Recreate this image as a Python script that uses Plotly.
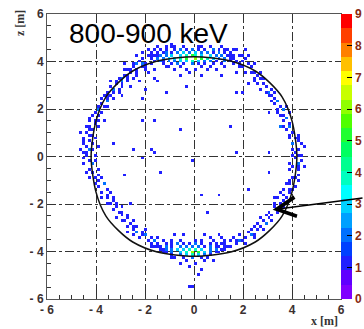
import numpy as np
import plotly.graph_objects as go

# ---------------- data (bin centre x [m], z [m], counts) ----------------
BIN = 0.12

top_cluster = [
    (-0.9, 4.62, 1), (-0.45, 4.62, 1), (0.15, 4.66, 1), (0.6, 4.62, 1), (1.1, 4.58, 1), (-0.93, 4.75, 1),
    (-1.4, 4.5, 1), (-1.1, 4.5, 1), (-0.8, 4.5, 1), (-0.55, 4.5, 2), (-0.3, 4.5, 1), (-0.05, 4.5, 2),
    (0.2, 4.5, 1), (0.45, 4.5, 1), (0.75, 4.5, 2), (1.0, 4.5, 1), (1.3, 4.46, 1),
    (-1.7, 4.38, 1), (-1.45, 4.38, 1), (-1.2, 4.38, 2), (-0.95, 4.38, 1), (-0.7, 4.38, 2), (-0.45, 4.38, 3),
    (-0.2, 4.38, 2), (0.05, 4.38, 3), (0.3, 4.38, 2), (0.55, 4.38, 2), (0.8, 4.38, 1), (1.05, 4.38, 2),
    (1.3, 4.38, 1), (1.55, 4.35, 1),
    (-1.9, 4.26, 1), (-1.6, 4.26, 1), (-1.35, 4.26, 2), (-1.1, 4.26, 2), (-0.85, 4.26, 3), (-0.6, 4.26, 3),
    (-0.35, 4.26, 4), (-0.1, 4.26, 5), (0.1, 4.26, 4), (0.35, 4.26, 3), (0.6, 4.26, 3), (0.85, 4.26, 2),
    (1.1, 4.26, 2), (1.35, 4.26, 1), (1.6, 4.22, 1), (1.85, 4.2, 1),
    (-1.8, 4.14, 1), (-1.5, 4.14, 2), (-1.25, 4.14, 2), (-1.0, 4.14, 3), (-0.75, 4.14, 3), (-0.5, 4.14, 4),
    (-0.25, 4.14, 5), (0.0, 4.14, 6), (0.25, 4.14, 5), (0.5, 4.14, 4), (0.75, 4.14, 3), (1.0, 4.14, 2),
    (1.25, 4.14, 2), (1.5, 4.1, 1), (1.75, 4.06, 1), (2.0, 4.0, 1),
    (-1.6, 4.02, 1), (-1.3, 4.02, 1), (-1.05, 4.02, 2), (-0.8, 4.02, 2), (-0.55, 4.02, 3), (-0.3, 4.02, 3),
    (-0.05, 4.02, 4), (0.2, 4.02, 3), (0.45, 4.02, 2), (0.7, 4.02, 2), (0.95, 4.02, 1), (1.2, 4.02, 2),
    (1.45, 3.98, 1),
    (-1.3, 3.9, 1), (-0.95, 3.9, 1), (-0.65, 3.9, 2), (-0.4, 3.9, 1), (-0.1, 3.9, 2), (0.15, 3.9, 1),
    (0.45, 3.9, 1), (0.8, 3.9, 1), (1.1, 3.88, 1),
    (-1.0, 3.78, 1), (-0.5, 3.78, 1), (0.3, 3.78, 1), (0.7, 3.76, 1),
    (-0.75, 3.62, 1), (0.55, 3.6, 1), (-0.2, 3.55, 1),
    (1.1, 3.36, 1), (1.3, 3.73, 1),
    (-1.15, 3.75, 1), (-0.3, 3.7, 1), (0.9, 3.7, 1), (0.05, 3.65, 1), (-0.8, 4.62, 1), (0.35, 4.62, 1),
    (1.35, 4.55, 1), (1.6, 4.5, 1), (-1.55, 4.6, 1), (1.75, 3.55, 1), (-0.6, 3.45, 1), (0.25, 3.4, 1),
]

top_left_arc = [
    (-1.3, 4.35, 1), (-1.5, 4.2, 1), (-1.4, 4.0, 2), (-1.6, 4.45, 1), (-1.8, 4.1, 1), (-1.7, 3.9, 1),
    (-1.9, 4.3, 1), (-2.0, 3.95, 1), (-2.1, 3.75, 1), (-2.2, 4.05, 1), (-2.0, 3.6, 1), (-2.3, 3.85, 2),
    (-2.4, 3.6, 1), (-2.5, 3.95, 1), (-2.3, 3.4, 1), (-2.6, 3.7, 1), (-2.7, 3.45, 1), (-2.5, 3.3, 1),
    (-2.8, 3.6, 1), (-2.9, 3.3, 2), (-2.7, 3.15, 1), (-3.0, 3.05, 1), (-3.1, 3.35, 1), (-2.9, 2.9, 1),
    (-3.2, 3.0, 1), (-3.3, 2.75, 1), (-3.1, 2.65, 1), (-3.4, 2.95, 1), (-3.5, 2.55, 1), (-3.3, 2.4, 1),
    (-3.6, 2.75, 1), (-3.6, 2.3, 2), (-3.7, 2.05, 1), (-3.8, 2.4, 1), (-3.5, 2.1, 1), (-3.9, 2.1, 1),
    (-3.8, 1.8, 1), (-4.0, 1.9, 1), (-3.9, 1.55, 1), (-4.1, 1.7, 1), (-4.0, 1.35, 1), (-4.2, 1.45, 1),
    (-3.7, 1.5, 1), (-4.1, 1.15, 1), (-4.3, 1.2, 1), (-2.2, 3.2, 1), (-2.6, 2.9, 1), (-1.9, 3.55, 1),
    (-1.6, 3.7, 1), (-3.0, 2.6, 1), (-2.0, 2.8, 1), (-2.4, 4.25, 1), (-1.2, 4.6, 1), (-2.8, 3.85, 1),
    (-1.6, 3.3, 1), (-3.45, 3.2, 1),
    (-1.55, 4.1, 1), (-1.75, 4.25, 1), (-2.05, 4.15, 1), (-2.15, 3.9, 2), (-2.45, 3.8, 1), (-2.55, 3.5, 1),
    (-2.75, 3.7, 1), (-2.85, 3.45, 1), (-2.95, 3.15, 2), (-3.15, 3.15, 1), (-3.25, 2.85, 2), (-3.4, 2.6, 1),
    (-3.55, 2.4, 1), (-3.7, 2.55, 1), (-3.75, 2.2, 1), (-3.85, 1.95, 2), (-3.95, 1.75, 1), (-4.05, 1.5, 1),
    (-4.2, 1.6, 1), (-4.25, 1.3, 1), (-3.95, 1.25, 1), (-4.1, 0.95, 1), (-2.35, 3.55, 1), (-2.65, 3.25, 1),
    (-3.05, 2.85, 1), (-1.95, 3.75, 1), (-1.85, 4.45, 1), (-2.1, 4.35, 1),
]

top_right_arc = [
    (1.9, 4.3, 1), (2.1, 4.1, 1), (2.2, 3.9, 1), (2.0, 3.8, 1), (2.35, 3.75, 1), (2.5, 3.55, 1),
    (2.3, 3.5, 1), (2.6, 3.4, 1), (2.7, 3.25, 1), (2.5, 3.2, 1), (2.8, 3.05, 1), (2.95, 2.95, 1),
    (2.75, 2.85, 1), (3.05, 2.75, 2), (3.2, 2.6, 1), (3.0, 2.55, 1), (3.3, 2.45, 1), (3.4, 2.3, 2),
    (3.25, 2.2, 1), (3.5, 2.1, 1), (3.6, 1.95, 2), (3.45, 1.85, 1), (3.7, 1.75, 1), (3.8, 1.6, 2),
    (3.65, 1.5, 1), (3.9, 1.4, 1), (3.95, 1.2, 2), (3.8, 1.1, 1), (4.05, 1.0, 1), (4.1, 0.8, 1),
    (3.95, 0.75, 1), (4.2, 0.6, 1), (4.05, 0.5, 2), (4.25, 0.35, 1), (4.1, 0.2, 1), (4.3, 0.1, 1),
    (4.15, -0.05, 1), (4.35, -0.2, 1), (4.2, -0.35, 2), (4.0, -0.45, 1), (4.3, -0.55, 1), (4.5, -0.4, 1),
    (1.6, 3.95, 1), (1.8, 3.75, 1), (2.05, 3.55, 1), (2.6, 3.1, 1), (3.35, 2.7, 1), (4.45, 0.4, 1),
    (4.4, 0.0, 1), (3.55, 1.25, 2), (2.25, 3.0, 1), (1.55, 4.3, 1), (1.75, 4.45, 1), (2.1, 4.45, 1),
    (4.0, 0.3, 1), (3.9, 0.95, 1), (4.2, 0.95, 1), (4.3, 0.75, 1), (4.4, 0.55, 1), (4.0, 0.1, 1),
    (3.7, 1.3, 1), (3.85, 1.85, 1), (3.55, 1.7, 1), (3.75, 2.15, 1), (3.4, 2.0, 1), (3.15, 2.35, 1),
    (2.95, 2.75, 1), (3.15, 2.85, 1), (2.85, 3.3, 1), (2.65, 3.55, 1), (2.4, 3.35, 1), (2.45, 3.85, 1),
    (2.25, 4.2, 1), (2.0, 4.2, 1), (1.65, 4.1, 1), (1.8, 3.95, 1),
]

bottom_right_arc = [
    (4.3, -0.75, 1), (4.1, -0.85, 1), (4.2, -1.0, 1), (3.95, -1.1, 1), (4.1, -1.25, 1), (3.85, -1.35, 1),
    (3.95, -1.55, 1), (3.7, -1.6, 1), (3.8, -1.75, 1), (3.6, -1.85, 1), (3.5, -2.0, 1), (3.65, -2.1, 1),
    (3.3, -2.15, 1), (3.4, -2.3, 1), (3.2, -2.45, 1), (3.05, -2.6, 1), (3.15, -2.75, 1), (2.9, -2.8, 2),
    (2.75, -2.95, 1), (2.85, -3.1, 1), (2.6, -3.1, 1), (2.45, -3.25, 1), (2.3, -3.3, 2), (2.5, -3.4, 1),
    (2.15, -3.45, 1), (2.0, -3.55, 1), (1.85, -3.6, 2), (2.05, -3.7, 1), (1.7, -3.7, 1), (1.55, -3.8, 1),
    (1.4, -3.75, 1), (1.6, -3.45, 1), (1.3, -3.55, 1), (1.1, -3.65, 1), (2.3, -3.05, 1), (3.3, -1.75, 1),
    (3.95, -0.6, 1), (3.75, -1.2, 1), (2.7, -2.55, 1), (3.55, -1.45, 1),
    (1.5, -3.6, 1), (1.75, -3.55, 1), (1.9, -3.35, 1), (2.2, -3.2, 1), (2.4, -3.0, 1), (2.55, -2.85, 1),
    (2.8, -2.65, 1), (2.95, -2.45, 1), (3.1, -2.3, 1), (3.25, -2.0, 1), (3.45, -1.75, 1), (3.6, -1.6, 1),
    (3.7, -1.4, 1), (3.85, -1.0, 1), (4.0, -0.95, 1), (4.0, -1.4, 1), (4.25, -0.45, 1), (3.9, -0.25, 1),
]

bottom_cluster = [
    (-0.8, -3.3, 1), (0.4, -3.25, 1), (1.0, -3.35, 1),
    (-1.3, -3.5, 1), (-0.9, -3.55, 1), (-0.5, -3.5, 1), (0.0, -3.5, 1), (0.3, -3.55, 1), (0.75, -3.5, 1),
    (1.15, -3.45, 1),
    (-1.5, -3.66, 1), (-1.2, -3.66, 1), (-0.95, -3.66, 1), (-0.7, -3.66, 2), (-0.45, -3.66, 1),
    (-0.2, -3.66, 1), (0.1, -3.66, 2), (0.35, -3.66, 1), (0.6, -3.66, 1), (0.9, -3.66, 1), (1.25, -3.66, 1),
    (-1.65, -3.78, 1), (-1.35, -3.78, 1), (-1.1, -3.78, 2), (-0.85, -3.78, 1), (-0.6, -3.78, 2),
    (-0.35, -3.78, 2), (-0.1, -3.78, 2), (0.15, -3.78, 2), (0.4, -3.78, 1), (0.65, -3.78, 2),
    (0.95, -3.78, 1), (1.2, -3.78, 1),
    (-1.4, -3.9, 1), (-1.15, -3.9, 2), (-0.9, -3.9, 2), (-0.65, -3.9, 3), (-0.4, -3.9, 3), (-0.15, -3.9, 4),
    (0.1, -3.9, 4), (0.35, -3.9, 3), (0.6, -3.9, 2), (0.85, -3.9, 2), (1.1, -3.9, 1),
    (-1.1, -4.02, 1), (-0.85, -4.02, 2), (-0.6, -4.02, 3), (-0.35, -4.02, 4), (-0.1, -4.02, 6),
    (0.15, -4.02, 5), (0.4, -4.02, 3), (0.65, -4.02, 2), (0.9, -4.02, 1),
    (-0.9, -4.14, 1), (-0.6, -4.14, 2), (-0.35, -4.14, 3), (-0.1, -4.14, 4), (0.15, -4.14, 3),
    (0.4, -4.14, 2), (0.7, -4.14, 1),
    (-0.75, -4.26, 1), (-0.4, -4.26, 1), (-0.05, -4.28, 2), (0.25, -4.26, 1), (0.55, -4.26, 1),
    (-0.5, -4.45, 1), (0.05, -4.5, 1), (0.4, -4.42, 1), (-0.2, -4.62, 1), (0.3, -4.7, 1),
    (0.2, -4.95, 1), (-0.05, -5.4, 1), (-0.2, -5.5, 1),
    (-1.25, -3.9, 1), (1.3, -3.9, 1), (1.0, -4.02, 1), (-1.25, -4.02, 1), (1.05, -3.78, 1),
    (-0.45, -3.36, 1), (0.6, -3.4, 1), (-0.3, -4.36, 1), (0.75, -4.32, 1), (-0.95, -4.3, 1),
]

bottom_left_arc = [
    (-1.9, -3.55, 1), (-1.75, -3.4, 1), (-2.05, -3.3, 1), (-2.2, -3.45, 1), (-2.35, -3.2, 2), (-2.5, -3.05, 1),
    (-2.3, -2.95, 1), (-2.6, -2.85, 1), (-2.75, -2.95, 1), (-2.85, -2.65, 1), (-2.65, -2.6, 1), (-3.0, -2.5, 1),
    (-3.1, -2.35, 1), (-2.9, -2.3, 1), (-3.25, -2.2, 1), (-3.4, -2.0, 1), (-3.2, -1.95, 1), (-3.5, -1.8, 1),
    (-3.35, -1.7, 1), (-3.6, -1.6, 1), (-3.75, -1.45, 1), (-3.55, -1.35, 1), (-3.85, -1.25, 1),
    (-3.7, -1.1, 2), (-3.9, -1.0, 1), (-1.6, -3.6, 2), (-1.45, -3.45, 1), (-2.0, -3.1, 1), (-2.5, -2.7, 1),
    (-3.0, -2.1, 1), (-1.7, -3.75, 1), (-2.7, -3.2, 1), (-3.15, -2.6, 1),
    (-3.75, -1.7, 1), (-3.45, -1.55, 1), (-3.3, -1.9, 1), (-3.15, -2.05, 1), (-2.95, -2.7, 1),
    (-2.75, -2.45, 1), (-2.45, -2.9, 1), (-2.15, -3.2, 1), (-1.95, -3.35, 2), (-1.8, -3.65, 1),
    (-1.55, -3.8, 1), (-1.35, -3.9, 1), (-2.45, -3.25, 1), (-3.6, -1.95, 1),
]

left_side = [
    (-4.0, -0.85, 1), (-4.15, -0.7, 1), (-3.95, -0.55, 1), (-4.3, -0.5, 1), (-4.1, -0.35, 2), (-4.45, -0.3, 1),
    (-4.2, -0.15, 1), (-4.35, 0.0, 1), (-4.05, 0.05, 1), (-4.5, 0.15, 1), (-4.25, 0.25, 2), (-4.4, 0.4, 1),
    (-4.1, 0.5, 1), (-4.55, 0.55, 1), (-4.3, 0.65, 1), (-4.45, 0.8, 1), (-4.2, 0.9, 1), (-4.35, 1.0, 1),
    (-4.6, 1.0, 1), (-4.05, 0.75, 1), (-4.5, -0.1, 1), (-4.25, -0.6, 1), (-4.6, 0.35, 1), (-4.15, 1.1, 1),
    (-4.4, 1.25, 1),
    (-4.15, 0.35, 1), (-4.35, 0.2, 1), (-4.0, -0.2, 1), (-4.25, -0.95, 1), (-3.9, -0.75, 1), (-4.4, -0.7, 1),
    (-4.05, -1.15, 1), (-3.8, -0.95, 1), (-4.5, 0.65, 1), (-3.95, 0.4, 1), (-4.25, 1.15, 1),
]

interior = [
    (-2.06, 2.4, 1), (-1.12, 2.64, 1), (-0.34, 2.95, 1), (-1.45, 3.12, 1), (1.7, 2.64, 1), (1.97, 2.64, 1),
    (-2.08, 1.52, 1), (-1.57, 1.44, 1), (-0.58, 1.1, 1), (1.5, 1.24, 1), (-2.51, 0.32, 1), (-1.77, 0.32, 1),
    (-1.57, 0.17, 1), (1.7, 0.17, 1), (-2.12, -0.06, 1), (-0.05, -0.2, 1), (-2.8, -0.77, 1), (-1.44, -0.7, 1),
    (0.24, -1.57, 1), (1.02, -1.62, 1), (-2.6, -1.99, 1), (2.27, -1.44, 1), (-2.93, -2.31, 1), (0.52, -2.31, 1),
    (3.1, 1.85, 1), (3.1, 0.15, 1), (3.57, 1.25, 2), (3.05, -0.7, 1), (-3.35, 0.58, 1), (-1.15, 2.7, 1),
]

# boundary curve
boundary_x = [4.2, 4.0, 3.6, 3.1, 2.5, 1.5, 0.0, -1.5, -2.5, -3.1, -3.6, -4.0, -4.2,
              -4.0, -3.6, -3.1, -2.5, -1.5, 0.0, 1.5, 2.5, 3.1, 3.6, 4.0, 4.2]
boundary_z = [0.0, 1.5, 2.5, 3.1, 3.6, 4.02, 4.2, 4.02, 3.6, 3.1, 2.5, 1.5, 0.0,
              -1.5, -2.5, -3.1, -3.6, -4.02, -4.2, -4.02, -3.6, -3.1, -2.5, -1.5, 0.0]

tick_vals = [-6, -4, -2, 0, 2, 4, 6]
tick_text = ["- 6", "- 4", "- 2", "0", "2", "4", "6"]
cbar_ticks = [0, 1, 2, 3, 4, 5, 6, 7, 8, 9]

# palette (20 contour bands, ROOT-like)
band_colors = ["#8000ff", "#6000ff", "#2020ff", "#0040ff", "#0070ff", "#00a0ff", "#00d0ff",
               "#00ffff", "#00ffc0", "#00ff90", "#00ff60", "#20ff30", "#50ff00", "#90ff00",
               "#c8ff00", "#ffff00", "#ffc000", "#ff8000", "#ff4000", "#ff0000"]

# ---------------- build histogram ----------------
nb = int(round(12 / BIN))
centers = -6 + BIN * (np.arange(nb) + 0.5)
H = np.full((nb, nb), np.nan)
for group in [top_cluster, top_left_arc, top_right_arc, bottom_right_arc, bottom_cluster,
              bottom_left_arc, left_side, interior]:
    for x, z, n in group:
        ix = min(max(int(np.floor((x + 6) / BIN)), 0), nb - 1)
        iz = min(max(int(np.floor((z + 6) / BIN)), 0), nb - 1)
        if np.isnan(H[iz, ix]) or H[iz, ix] < n:
            H[iz, ix] = n

colorscale = []
nbands = len(band_colors)
for i, c in enumerate(band_colors):
    colorscale.append([i / nbands, c])
    colorscale.append([(i + 1) / nbands, c])

fig = go.Figure()
fig.add_trace(go.Heatmap(
    x=centers, y=centers, z=H, zmin=0, zmax=9, colorscale=colorscale,
    hoverongaps=False,
    colorbar=dict(
        thickness=11, len=1, lenmode="fraction", y=0.5, yanchor="middle",
        x=1.0, xanchor="left", xpad=0, ypad=0, outlinewidth=0,
        tickvals=cbar_ticks, ticks="inside", ticklen=5, tickcolor="#000", tickwidth=1,
        tickfont=dict(family="Liberation Sans", size=12, color="#8a2a10", weight="bold"),
    ),
))
fig.add_trace(go.Scatter(
    x=boundary_x, y=boundary_z, mode="lines",
    line=dict(color="#111", width=1.5, shape="spline", smoothing=0.8),
    hoverinfo="skip", showlegend=False,
))

axis_common = dict(
    range=[-6, 6], tickmode="array", tickvals=tick_vals, ticktext=tick_text,
    ticks="inside", ticklen=8, tickcolor="#333", tickwidth=1,
    minor=dict(dtick=0.5, ticks="inside", ticklen=4, tickcolor="#333", showgrid=False),
    showgrid=True, gridcolor="#333", griddash="dashdot", gridwidth=1,
    showline=True, linecolor="#555", linewidth=1, mirror=True, zeroline=False,
    tickfont=dict(family="Liberation Sans", size=12, color="#3b3030", weight="bold"),
)
fig.update_xaxes(**axis_common)
fig.update_yaxes(**axis_common)

fig.add_annotation(text="800-900 keV", xref="paper", yref="paper", x=0.068, y=0.933,
                   xanchor="left", yanchor="middle", showarrow=False,
                   font=dict(family="Liberation Sans", size=28, color="#000"))
fig.add_annotation(text="x [m]", xref="paper", yref="paper", x=0.945, y=-0.078,
                   xanchor="center", yanchor="middle", showarrow=False,
                   font=dict(family="Liberation Serif", size=12, color="#333", weight="bold"))
fig.add_annotation(text="z [m]", xref="paper", yref="paper", x=-0.092, y=0.968,
                   xanchor="center", yanchor="middle", showarrow=False, textangle=-90,
                   font=dict(family="Liberation Serif", size=12, color="#333", weight="bold"))
fig.add_annotation(x=3.21, y=-2.24, xref="x", yref="y", text="", showarrow=True,
                   ax=100, ay=-12, arrowhead=5, arrowsize=2.5, arrowwidth=1.5, arrowcolor="#000")

fig.update_layout(
    width=364, height=329, margin=dict(l=47, r=23, t=14, b=30, autoexpand=False),
    paper_bgcolor="white", plot_bgcolor="white", showlegend=False,
)
fig.write_html("out.html")
